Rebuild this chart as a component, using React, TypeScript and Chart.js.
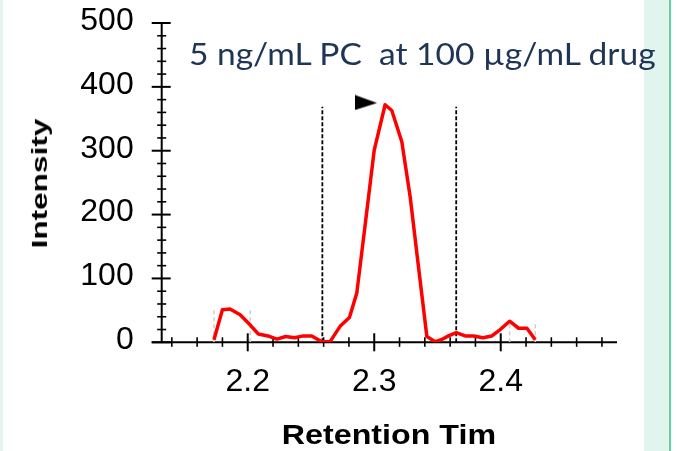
import React, { useEffect, useRef } from 'react';
import { Chart, registerables } from 'chart.js';

Chart.register(...registerables);

// ---------------- data ----------------
const retentionTimes = [
  2.1733, 2.18, 2.186, 2.194, 2.202, 2.2084, 2.216, 2.223, 2.23, 2.237, 2.244, 2.2506,
  2.2585, 2.2651, 2.273, 2.2804, 2.2862, 2.2932, 2.3, 2.3086, 2.3139, 2.3218, 2.3284,
  2.335, 2.3416, 2.3482, 2.353, 2.3587, 2.3648, 2.3719, 2.3785, 2.3859, 2.393, 2.3996,
  2.407, 2.4141, 2.4207, 2.4273,
];
const intensities = [
  4, 51, 52, 43, 27, 13, 10, 5, 9, 7, 10, 10,
  1, 1, 25, 39, 77, 190, 301, 372, 363, 314, 228,
  118, 9, 1, 4, 10, 15, 10, 10, 7, 10, 20,
  33, 22, 22, 4,
];
const integrationTimes = [2.259, 2.3648];
const integrationTop = 369;
const noiseWindowTimes = [2.1733, 2.202, 2.407, 2.4273];
const noiseWindowTops = [51, 51, 30, 30];
const apexMarkerTime = 2.2935;
const apexMarkerIntensity = 375.6;
const xTickValues = [2.2, 2.3, 2.4];
const yTickValues = [0, 100, 200, 300, 400, 500];
const xMin = 2.132;
const xMax = 2.4919;
const yMin = 0;
const yMax = 500;
const xMinorStep = 0.02;
const yMinorStep = 20;
const titleText = '5 ng/mL PC  at 100 µg/mL drug';
const xTitleText = 'Retention Tim';
const yTitleText = 'Intensity';

// ---------------- styling helpers ----------------
const W = 677;
const H = 451;
const ARIAL = '"Liberation Sans", Arial, sans-serif';

function measure(text: string, font: string) {
  const c = document.createElement('canvas').getContext('2d') as CanvasRenderingContext2D;
  c.font = font;
  const m = c.measureText(text);
  const h = c.measureText('H');
  return {
    abl: m.actualBoundingBoxLeft,
    abr: m.actualBoundingBoxRight,
    fA: m.fontBoundingBoxAscent,
    fD: m.fontBoundingBoxDescent,
    cap: h.actualBoundingBoxAscent,
  };
}

function overlayStyle(
  text: string,
  family: string,
  size: number,
  weight: string,
  color: string,
  o: { mode: 'left' | 'center'; rotate?: boolean; x: number; y: number; inkLen: number }
): React.CSSProperties {
  const m = measure(text, `${weight} ${size}px ${family}`);
  const ink = m.abl + m.abr;
  const k = o.inkLen / ink;
  const b = (size - (m.fA + m.fD)) / 2 + m.fA;
  let tr = '';
  if (o.mode === 'left') {
    const tx = o.x + k * m.abl;
    const ty = o.y - b;
    tr = `translate(${tx}px,${ty}px) scaleX(${k})`;
  } else {
    const cx = (m.abr - m.abl) / 2;
    const cy = b - m.cap / 2;
    if (o.rotate) {
      const tx = o.x - cy;
      const ty = o.y + k * cx;
      tr = `translate(${tx}px,${ty}px) rotate(-90deg) scaleX(${k})`;
    } else {
      const tx = o.x - k * cx;
      const ty = o.y - cy;
      tr = `translate(${tx}px,${ty}px) scaleX(${k})`;
    }
  }
  return {
    position: 'absolute',
    left: 0,
    top: 0,
    margin: 0,
    fontFamily: family,
    fontSize: `${size}px`,
    fontWeight: weight as any,
    lineHeight: `${size}px`,
    color,
    whiteSpace: 'pre',
    transformOrigin: '0 0',
    transform: tr,
  };
}

// axis lines and crossing tick marks
const axesPlugin = {
  id: 'crossTicks',
  beforeDatasetsDraw(chart: any) {
    const { ctx, scales } = chart;
    const x = scales.x;
    const y = scales.y;
    const ax = x.getPixelForValue(xMin);
    const ay = y.getPixelForValue(yMin);
    ctx.save();
    ctx.strokeStyle = '#000';
    ctx.lineCap = 'butt';
    ctx.lineWidth = 2;
    ctx.beginPath();
    ctx.moveTo(ax, y.getPixelForValue(yMax));
    ctx.lineTo(ax, ay);
    ctx.moveTo(ax - 10, ay);
    ctx.lineTo(x.getPixelForValue(xMax), ay);
    ctx.stroke();
    // y ticks
    for (let v = yMin; v <= yMax + 1e-9; v += yMinorStep) {
      const major = yTickValues.some((t) => Math.abs(t - v) < 1e-6);
      const py = y.getPixelForValue(v);
      ctx.lineWidth = major ? 2 : 1.6;
      ctx.beginPath();
      if (major) {
        ctx.moveTo(ax - 10, py);
        ctx.lineTo(ax + 9, py);
      } else {
        ctx.moveTo(ax - 4.5, py);
        ctx.lineTo(ax + 4.5, py);
      }
      ctx.stroke();
    }
    // x ticks
    const start = Math.ceil((xMin + 1e-9) / xMinorStep) * xMinorStep;
    for (let v = start; v <= xMax + 1e-9; v += xMinorStep) {
      const major = xTickValues.some((t) => Math.abs(t - v) < 1e-6);
      const px = x.getPixelForValue(v);
      ctx.lineWidth = major ? 2 : 1.6;
      ctx.beginPath();
      if (major) {
        ctx.moveTo(px, ay - 9);
        ctx.lineTo(px, ay + 9);
      } else {
        ctx.moveTo(px, ay - 5);
        ctx.lineTo(px, ay + 4.5);
      }
      ctx.stroke();
    }
    ctx.restore();
  },
};

export default function App() {
  const canvasRef = useRef<HTMLCanvasElement | null>(null);

  useEffect(() => {
    document.body.style.margin = '0';
    const canvas = canvasRef.current;
    if (!canvas) return;

    const marker = document.createElement('canvas');
    marker.width = 22;
    marker.height = 16;
    const mctx = marker.getContext('2d') as CanvasRenderingContext2D;
    mctx.fillStyle = '#000';
    mctx.beginPath();
    mctx.moveTo(0, 0.5);
    mctx.lineTo(0, 15.5);
    mctx.lineTo(22, 8.5);
    mctx.closePath();
    mctx.fill();

    const datasets: any[] = [
      {
        label: 'trace',
        data: retentionTimes.map((t, i) => ({ x: t, y: intensities[i] })),
        borderColor: '#ff0000',
        borderWidth: 3.5,
        pointRadius: 0,
        tension: 0,
        fill: false,
        borderJoinStyle: 'round',
      },
      {
        label: 'apex',
        data: [{ x: apexMarkerTime, y: apexMarkerIntensity }],
        showLine: false,
        pointStyle: marker,
        pointRadius: 11,
      },
      ...integrationTimes.map((t) => ({
        label: 'integration',
        data: [
          { x: t, y: 0 },
          { x: t, y: integrationTop },
        ],
        borderColor: '#000',
        borderWidth: 1.8,
        borderDash: [4, 2],
        pointRadius: 0,
        fill: false,
      })),
      ...noiseWindowTimes.map((t, i) => ({
        label: 'noise',
        data: [
          { x: t, y: 0 },
          { x: t, y: noiseWindowTops[i] },
        ],
        borderColor: '#cfcfcf',
        borderWidth: 1.6,
        borderDash: [4, 3],
        pointRadius: 0,
        fill: false,
      })),
    ];

    const chart = new Chart(canvas, {
      type: 'line',
      data: { datasets },
      options: {
        responsive: false,
        animation: false,
        devicePixelRatio: 1,
        layout: { padding: { left: 0, top: 23, right: W - 617, bottom: 0 } },
        plugins: { legend: { display: false }, tooltip: { enabled: false }, title: { display: false } },
        scales: {
          x: {
            type: 'linear',
            min: xMin,
            max: xMax,
            afterBuildTicks: (s: any) => {
              s.ticks = xTickValues.map((v) => ({ value: v }));
            },
            afterFit: (s: any) => {
              s.height = H - 342.3;
              s.paddingLeft = 0;
              s.paddingRight = 0;
            },
            grid: { display: false, drawTicks: false },
            border: { display: false },
            ticks: {
              autoSkip: false,
              maxRotation: 0,
              padding: 21,
              color: '#000',
              font: { family: ARIAL, size: 32 },
              callback: (v: any) => Number(v).toFixed(1),
            },
          },
          y: {
            type: 'linear',
            min: yMin,
            max: yMax,
            afterBuildTicks: (s: any) => {
              s.ticks = yTickValues.map((v) => ({ value: v }));
            },
            afterFit: (s: any) => {
              s.width = 161.7;
              s.paddingTop = 0;
              s.paddingBottom = 0;
            },
            grid: { display: false, drawTicks: false },
            border: { display: false },
            ticks: {
              autoSkip: false,
              padding: 28,
              labelOffset: -2,
              color: '#000',
              font: { family: ARIAL, size: 32 },
              callback: (v: any) => String(v),
            },
          },
        },
      },
      plugins: [axesPlugin],
    } as any);

    return () => chart.destroy();
  }, []);

  const titleStyle = overlayStyle(titleText, 'Lato', 30, 'normal', '#1f3556', {
    mode: 'left',
    x: 190,
    y: 65,
    inkLen: 467,
  });
  const xTitleStyle = overlayStyle(xTitleText, ARIAL, 28, 'bold', '#000', {
    mode: 'center',
    x: 389,
    y: 435,
    inkLen: 212,
  });
  const yTitleStyle = overlayStyle(yTitleText, ARIAL, 22.5, 'bold', '#000', {
    mode: 'center',
    rotate: true,
    x: 40.2,
    y: 182.5,
    inkLen: 129,
  });

  return (
    <div style={{ position: 'absolute', left: 0, top: 0, width: W, height: H, overflow: 'hidden', background: '#fff' }}>
      <div
        style={{
          position: 'absolute',
          left: 560,
          top: -169,
          width: 111,
          height: 800,
          boxSizing: 'border-box',
          background: '#e1f4ee',
          borderTop: '2px solid #62d3a3',
          borderRight: '2px solid #62d3a3',
          borderTopRightRadius: 229,
        }}
      />
      <div style={{ position: 'absolute', left: 0, top: 0, width: 3, height: H, background: '#e1f4ee' }} />
      <div style={{ position: 'absolute', left: 3, top: 0, width: 641, height: H, background: '#fff' }} />
      <canvas ref={canvasRef} width={W} height={H} style={{ position: 'absolute', left: 0, top: 0, width: W, height: H }} />
      <div style={titleStyle}>{titleText}</div>
      <div style={xTitleStyle}>{xTitleText}</div>
      <div style={yTitleStyle}>{yTitleText}</div>
    </div>
  );
}
